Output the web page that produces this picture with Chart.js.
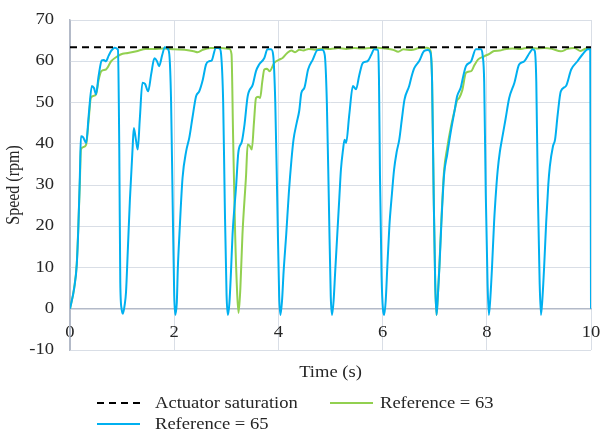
<!DOCTYPE html>
<html>
<head>
<meta charset="utf-8">
<script src="https://cdn.jsdelivr.net/npm/chart.js@4.4.1/dist/chart.umd.min.js"></script>
<style>
  html, body { margin: 0; padding: 0; background: #ffffff; }
  #wrap { position: relative; width: 604px; height: 433px; }
  canvas { position: absolute; left: 0; top: 0; }
  .lg { position: absolute; font-family: 'Liberation Serif', 'Times New Roman', serif; font-size: 16px; color: #262626; line-height: 20px; height: 20px; white-space: nowrap; transform: scaleX(1.16); transform-origin: 0 50%; }
  .sw { position: absolute; }
</style>
</head>
<body>
<div id="wrap">
  <canvas id="c" width="604" height="433"></canvas>
</div>
<script>
// ---- data ----
const X_TICKS = [0, 2, 4, 6, 8, 10];
const Y_TICKS = [-10, 0, 10, 20, 30, 40, 50, 60, 70];
const SERIES_NAMES = ['Actuator saturation', 'Reference = 63', 'Reference = 65'];
const SATURATION_T = [0, 10];
const SATURATION_V = [63.4, 63.4];

const BLUE_T = [
  0, 0.08, 0.13, 0.16, 0.19, 0.21, 0.25, 0.31, 0.36, 0.42, 0.46, 0.50, 0.55, 0.61, 0.65, 0.69, 0.74, 0.79, 0.86, 0.92, 0.946, 0.965, 0.99, 1.015,
  1.05, 1.075, 1.11, 1.15, 1.20, 1.225, 1.265, 1.30, 1.34, 1.39, 1.44, 1.50, 1.56, 1.62, 1.67, 1.71, 1.77, 1.82, 1.875, 1.906, 1.94, 1.97, 2.00, 2.02,
  2.05, 2.07, 2.10, 2.16, 2.23, 2.29, 2.35, 2.42, 2.48, 2.55, 2.61, 2.67, 2.72, 2.80, 2.87, 2.90, 2.94, 2.97, 3.005, 3.03,
  3.06, 3.09, 3.12, 3.19, 3.23, 3.30, 3.35, 3.41, 3.51, 3.57, 3.63, 3.73, 3.79, 3.86, 3.90, 3.94, 3.98, 4.015, 4.04,
  4.07, 4.10, 4.15, 4.20, 4.25, 4.29, 4.35, 4.40, 4.44, 4.50, 4.57, 4.66, 4.75, 4.84, 4.89, 4.93, 4.97, 5.005, 5.03,
  5.06, 5.09, 5.13, 5.17, 5.20, 5.24, 5.27, 5.30, 5.36, 5.43, 5.49, 5.55, 5.62, 5.71, 5.78, 5.84, 5.905, 5.93, 5.95, 5.98, 6.03,
  6.06, 6.09, 6.13, 6.18, 6.22, 6.27, 6.32, 6.37, 6.42, 6.51, 6.56, 6.61, 6.70, 6.80, 6.87, 6.92, 6.95, 6.98, 7.01, 7.035,
  7.06, 7.09, 7.13, 7.18, 7.24, 7.31, 7.38, 7.43, 7.50, 7.55, 7.60, 7.70, 7.79, 7.89, 7.92, 7.95, 7.98, 8.015, 8.04,
  8.07, 8.10, 8.14, 8.18, 8.21, 8.25, 8.29, 8.36, 8.43, 8.53, 8.62, 8.72, 8.82, 8.88, 8.92, 8.95, 8.98, 9.015, 9.04,
  9.07, 9.10, 9.14, 9.18, 9.21, 9.27, 9.31, 9.36, 9.42, 9.52, 9.62, 9.74, 9.84, 9.94, 9.985, 10.0
];
const BLUE_V = [
  0, 5, 10.7, 19.6, 32.5, 41.8, 41.6, 40.2, 47, 54, 53.5, 52, 56.5, 60.2, 60.3, 60, 61.3, 62.5, 63.3, 62.8, 38.6, 6.5, 0, -1.2,
  1, 4, 14.3, 26.5, 38.6, 43.8, 41, 38.6, 46, 54.8, 54.5, 52.7, 57, 60.7, 60, 58.8, 61.5, 63.4, 63, 61.7, 50.3, 26, 3.4, -1.5,
  1.5, 9.9, 18, 31.7, 38.2, 41.5, 46.3, 51.5, 52.7, 55.6, 59.2, 60, 60.2, 63.3, 63.1, 61.7, 50, 26, 3.4, -1.5,
  1.5, 9, 18, 30, 37.8, 40.6, 44.7, 51.5, 54.4, 57.6, 59.2, 60.8, 62.9, 62.9, 61.5, 50, 25, 3, -1.5,
  2, 9, 18, 28, 36, 41, 45, 48, 52.3, 53.6, 58, 60.4, 62.7, 62.8, 61.5, 50, 25, 3, -1.5,
  2, 9, 18, 27, 33.7, 38.5, 41, 40.2, 47, 54, 53.2, 56.5, 59.6, 60, 61.5, 62.9, 62.8, 56, 32, 8, -1.5,
  2, 10, 20, 28, 33.7, 38, 41, 46, 50.7, 54, 56.5, 58.4, 60, 62.5, 62.7, 62, 55, 28, 6, -1.5,
  3, 9.9, 21.2, 32.5, 37.4, 43, 47.9, 51.5, 53.6, 56.5, 58.8, 60, 62.9, 62.9, 61.5, 55, 28, 6, -1.5,
  3, 10, 21, 29, 33.7, 38, 41, 46, 51.1, 54.8, 59.2, 60, 62, 62.9, 62.5, 55, 28, 6, -1.5,
  3, 10, 21, 30, 34.5, 39.4, 41, 47, 52.7, 54, 58, 60, 61.7, 62.9, 62.9, 0
];

const GREEN_T = [
  0, 0.08, 0.13, 0.16, 0.19, 0.21, 0.26, 0.31, 0.36, 0.40, 0.45, 0.50, 0.55, 0.60, 0.69, 0.79, 0.91, 1.01, 1.11, 1.30, 1.45, 1.60, 1.80, 2.00, 2.20, 2.38, 2.45, 2.55, 2.70, 2.90, 3.06,
  3.10, 3.13, 3.17, 3.21, 3.235, 3.27, 3.31, 3.38, 3.41, 3.45, 3.49, 3.53, 3.57, 3.61, 3.65, 3.69, 3.73, 3.78, 3.83, 3.92, 4.02, 4.08, 4.17, 4.25,
  4.32, 4.40, 4.48, 4.58, 4.70, 4.85, 5.00, 5.15, 5.30, 5.45, 5.60, 5.75, 5.90, 6.05, 6.20, 6.30, 6.40, 6.55, 6.70, 6.85, 6.92,
  6.95, 6.98, 7.01, 7.035, 7.06, 7.09, 7.13, 7.18, 7.24, 7.31, 7.38, 7.43, 7.47, 7.53, 7.60, 7.70, 7.76, 7.83, 7.95, 8.05, 8.14, 8.25, 8.34,
  8.50, 8.65, 8.80, 8.95, 9.10, 9.25, 9.42, 9.55, 9.68, 9.80, 9.90, 10.0
];
const GREEN_V = [
  0, 5, 11, 20, 31, 38.6, 39.2, 39.8, 46, 51.1, 51.6, 52, 55.5, 57.6, 58, 60, 61.2, 61.8, 62, 62.5, 63, 63, 63.1, 62.9, 62.8, 62.4, 62.2, 62.8, 63.2, 63.2, 63,
  61.7, 42.2, 18, 3.4, -1, 5, 18, 32.5, 39.8, 39.5, 38.6, 45, 51.1, 51.4, 51.1, 55, 58, 58.2, 57.6, 59.6, 60.4, 60.8, 62, 62.6,
  62.2, 62.8, 62.6, 63, 62.8, 63.1, 63, 63.2, 63, 63.2, 63.1, 63.2, 63.3, 63.1, 62.8, 62.3, 62.9, 62.7, 63.2, 63.3, 62.5,
  55, 28, 6, -1.5, 3, 10.5, 22, 33.5, 39, 44, 48, 50.5, 51.1, 53, 57.2, 57.6, 59, 60.4, 61.2, 61.8, 62.5, 62.6, 62.9,
  63.1, 63, 63.3, 63.1, 63.2, 63, 62.4, 63, 63.2, 62.5, 63.1, 63.2
];

// ---- styling ----
const BLUE = '#00B0F0';
const GREEN = '#92D050';
const GRID = '#d9dee6';
const AXIS = '#b3bac8';
const TEXT = '#262626';
const FONT = { family: "'Liberation Serif', 'Times New Roman', serif", size: 16 };
const TEXT_STRETCH = 1.16; // reference text is horizontally wider than its height suggests

const zip = (t, v) => t.map((x, i) => ({ x: x, y: v[i] }));

const canvas = document.getElementById('c');
const ctx2d = canvas.getContext('2d');
const origFillText = ctx2d.fillText.bind(ctx2d);
ctx2d.fillText = function (text, x, y, maxWidth) {
  const m = this.getTransform();
  const upright = Math.abs(m.b) < 1e-6 && Math.abs(m.c) < 1e-6;
  this.save();
  this.translate(x, y);
  // stretch along the screen's horizontal direction
  if (upright) this.scale(TEXT_STRETCH, 1); else this.scale(1, TEXT_STRETCH);
  if (maxWidth !== undefined) origFillText(text, 0, 0, upright ? maxWidth / TEXT_STRETCH : maxWidth);
  else origFillText(text, 0, 0);
  this.restore();
};

const noPad = s => { s.paddingTop = 0; s.paddingBottom = 0; s.paddingLeft = 0; s.paddingRight = 0; };

new Chart(ctx2d, {
  type: 'line',
  data: {
    datasets: [
      { label: SERIES_NAMES[0], data: zip(SATURATION_T, SATURATION_V), borderColor: '#000000', borderWidth: 2, borderDash: [7, 5], pointRadius: 0, order: 0 },
      { label: SERIES_NAMES[2], data: zip(BLUE_T, BLUE_V), borderColor: BLUE, borderWidth: 2, pointRadius: 0, cubicInterpolationMode: 'monotone', order: 1 },
      { label: SERIES_NAMES[1], data: zip(GREEN_T, GREEN_V), borderColor: GREEN, borderWidth: 2, pointRadius: 0, cubicInterpolationMode: 'monotone', order: 2 }
    ]
  },
  options: {
    responsive: false,
    animation: false,
    devicePixelRatio: 1,
    layout: { padding: { left: 0, right: 13, top: 20, bottom: 47 } },
    plugins: { legend: { display: false }, tooltip: { enabled: false } },
    scales: {
      x: {
        type: 'linear',
        position: { y: 0 },
        min: 0, max: 10,
        afterBuildTicks: s => { s.ticks = X_TICKS.map(v => ({ value: v })); },
        afterFit: noPad,
        ticks: { color: TEXT, font: FONT, padding: 14, maxRotation: 0 },
        grid: { color: c => (c.tick && c.tick.value === 0) ? AXIS : GRID, lineWidth: 1, drawTicks: false },
        border: { color: AXIS, width: 1.5 }
      },
      x2: {
        type: 'linear',
        position: 'bottom',
        min: 0, max: 10,
        afterFit: s => { noPad(s); s.height = 36; },
        ticks: { display: false },
        grid: { display: false, drawTicks: false },
        border: { display: false },
        title: { display: true, text: 'Time (s)', color: TEXT, font: FONT, padding: { top: 0, bottom: 4 } }
      },
      y: {
        type: 'linear',
        position: 'left',
        min: -10, max: 70,
        afterBuildTicks: s => { s.ticks = Y_TICKS.map(v => ({ value: v })); },
        afterFit: s => { noPad(s); s.width = 70; },
        ticks: { color: TEXT, font: FONT, padding: 16 },
        grid: { color: c => (c.tick && c.tick.value === 0) ? AXIS : GRID, lineWidth: 1, drawTicks: false },
        border: { color: AXIS, width: 1.5 },
        title: { display: true, text: 'Speed (rpm)', color: TEXT, font: FONT, padding: { top: 5, bottom: 0 } }
      }
    }
  }
});

// ---- legend (real text) ----
const wrap = document.getElementById('wrap');
function swatch(left, cy, width, color, dash) {
  const ns = 'http://www.w3.org/2000/svg';
  const svg = document.createElementNS(ns, 'svg');
  svg.setAttribute('width', String(width)); svg.setAttribute('height', '4');
  svg.setAttribute('class', 'sw');
  svg.style.left = left + 'px'; svg.style.top = (cy - 2) + 'px';
  const ln = document.createElementNS(ns, 'line');
  ln.setAttribute('x1', '0'); ln.setAttribute('y1', '2'); ln.setAttribute('x2', String(width)); ln.setAttribute('y2', '2');
  ln.setAttribute('stroke', color); ln.setAttribute('stroke-width', '2');
  if (dash) ln.setAttribute('stroke-dasharray', dash);
  svg.appendChild(ln);
  wrap.appendChild(svg);
}
function label(left, cy, text) {
  const d = document.createElement('div');
  d.className = 'lg';
  d.style.left = left + 'px'; d.style.top = (cy - 10) + 'px';
  d.textContent = text;
  wrap.appendChild(d);
}
swatch(97, 403, 43, '#000000', '7,5');
label(155, 403, SERIES_NAMES[0]);
swatch(330, 403, 43, GREEN, null);
label(380, 403, SERIES_NAMES[1]);
swatch(97, 424, 43, BLUE, null);
label(155, 424, SERIES_NAMES[2]);
</script>
</body>
</html>
